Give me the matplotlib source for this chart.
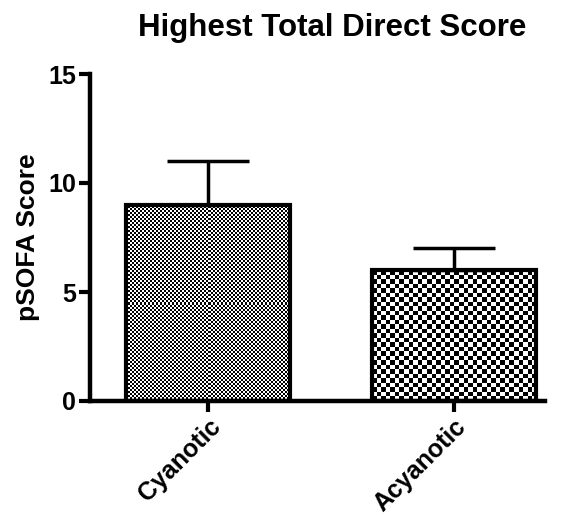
import numpy as np
import matplotlib
matplotlib.use('Agg')
import matplotlib.pyplot as plt

categories = ['Cyanotic', 'Acyanotic']
means = [9, 6]
err_upper = [2, 1]
yticks = [0, 5, 10, 15]
title = 'Highest Total Direct Score'
ylabel = 'pSOFA Score'
cell_px = [2.0, 4.5]

plt.rcParams['font.family'] = ['Liberation Sans', 'DejaVu Sans']
plt.rcParams['font.weight'] = 'bold'

W, H = 566, 515
fig = plt.figure(figsize=(W / 100, H / 100), dpi=100)
ax = fig.add_axes([90 / W, 114 / H, 455 / W, 327 / H])

x = np.arange(len(categories))
bars = ax.bar(x, means, width=0.667, facecolor='none', edgecolor='black',
              linewidth=3, zorder=3)
ax.errorbar(x, means, yerr=[[0] * len(means), err_upper], fmt='none',
            ecolor='black', elinewidth=2.5, capsize=29.5, capthick=2.5, zorder=2)

ax.set_xlim(-0.48, 1.37)
ax.set_ylim(0, 15)
ax.set_yticks(yticks)
ax.set_xticks(x)
ax.set_xticklabels(categories, rotation=45, ha='right', rotation_mode='anchor',
                   fontsize=14.5, fontweight='bold')
ax.tick_params(axis='both', width=3, length=8, labelsize=18, pad=2)
ax.tick_params(axis='x', pad=2)
for lab in ax.get_yticklabels():
    lab.set_fontweight('bold')
for s in ['top', 'right']:
    ax.spines[s].set_visible(False)
for s in ['left', 'bottom']:
    ax.spines[s].set_linewidth(3.2)
    ax.spines[s].set_zorder(5)
ax.set_ylabel(ylabel, fontsize=19, fontweight='bold', labelpad=6)

fig.text(332 / W, 1 - 28 / H, title, ha='center', va='center', fontsize=22.5,
         fontweight='bold')

# checker texture inside each bar
fig.canvas.draw()
for bar, c in zip(bars, cell_px):
    bx0, by0 = bar.get_x(), bar.get_y()
    bx1, by1 = bx0 + bar.get_width(), by0 + bar.get_height()
    p0 = ax.transData.transform((bx0, by0))
    p1 = ax.transData.transform((bx1, by1))
    nx = max(1, int(round(abs(p1[0] - p0[0]) / c)))
    ny = max(1, int(round(abs(p1[1] - p0[1]) / c)))
    ii, jj = np.indices((ny, nx))
    arr = ((ii + jj) % 2).astype(float)
    im = ax.imshow(arr, cmap='gray', extent=(bx0, bx1, by0, by1),
                   interpolation='nearest', aspect='auto', zorder=1, vmin=0, vmax=1)
    im.set_clip_path(bar)

ax.set_xlim(-0.48, 1.37)
ax.set_ylim(0, 15)

fig.savefig('out.png', dpi=100)
